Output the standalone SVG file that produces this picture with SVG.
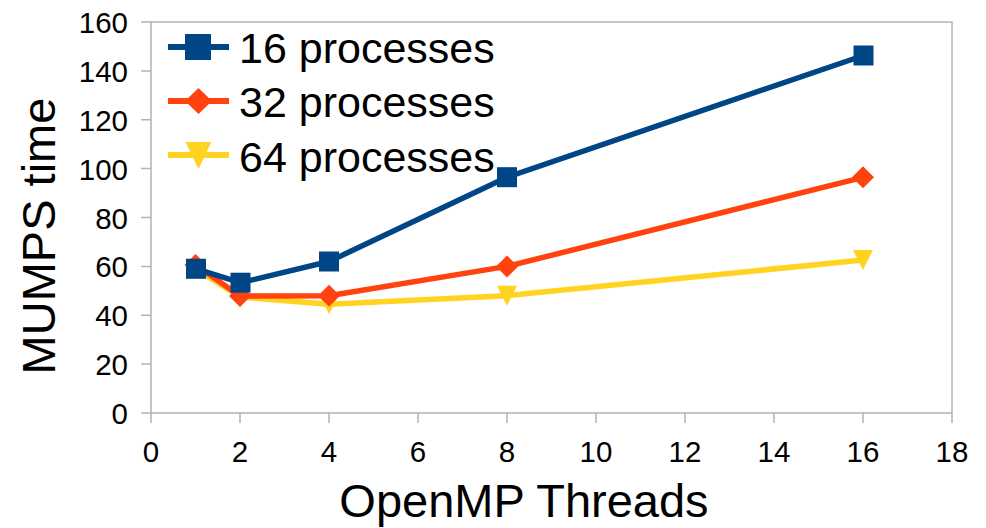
<svg xmlns="http://www.w3.org/2000/svg" width="986" height="528" viewBox="0 0 986 528">
<style>
text{font-family:"Liberation Sans",Arial,sans-serif;fill:#000}
.tick{font-size:29.5px}
.ylab{text-anchor:end}
.xlab{text-anchor:middle}
.axis{stroke:#b3b3b3;stroke-width:1.5;fill:none}
.s1{stroke:#004586;fill:none;stroke-width:5.5;stroke-linejoin:round}
.s2{stroke:#ff420e;fill:none;stroke-width:5.5;stroke-linejoin:round}
.s3{stroke:#ffd320;fill:none;stroke-width:5.5;stroke-linejoin:round}
.m1{fill:#004586}
.m2{fill:#ff420e}
.m3{fill:#ffd320}
.leg{font-size:43px}
</style>
<defs>
<rect id="sq" x="-10" y="-10" width="20" height="20"/>
<polygon id="dia" points="0,-11 11,0 0,11 -11,0"/>
<polygon id="tri" points="-10,-10 10,-10 0,10"/>
</defs>
<rect x="0" y="0" width="986" height="528" fill="#fff"/>
<g id="axes">
<rect class="axis" x="151" y="22" width="801" height="391"/>
<path class="axis" d="M141,22H151M141,70.9H151M141,119.8H151M141,168.6H151M141,217.5H151M141,266.4H151M141,315.3H151M141,364.1H151M141,413H151"/>
<path class="axis" d="M151,413V423M240,413V423M329,413V423M418,413V423M507,413V423M596,413V423M685,413V423M774,413V423M863,413V423M952,413V423"/>
</g>
<g id="ylabels" class="tick ylab">
<text x="128" y="33">160</text>
<text x="128" y="82">140</text>
<text x="128" y="131">120</text>
<text x="128" y="180">100</text>
<text x="128" y="229">80</text>
<text x="128" y="277">60</text>
<text x="128" y="326">40</text>
<text x="128" y="375">20</text>
<text x="128" y="424">0</text>
</g>
<g id="xlabels" class="tick xlab">
<text x="151" y="462">0</text>
<text x="240" y="462">2</text>
<text x="329" y="462">4</text>
<text x="418" y="462">6</text>
<text x="507" y="462">8</text>
<text x="596" y="462">10</text>
<text x="685" y="462">12</text>
<text x="774" y="462">14</text>
<text x="863" y="462">16</text>
<text x="952" y="462">18</text>
</g>
<text id="xtitle" x="524" y="517" font-size="47" text-anchor="middle">OpenMP Threads</text>
<text id="ytitle" transform="translate(55,236) rotate(-90)" font-size="47" text-anchor="middle">MUMPS time</text>
<g id="series3">
<polyline class="s3" points="195.5,268.8 240,297 329,304.2 507,295.7 863,260"/>
<use href="#tri" class="m3" x="195.5" y="268.8"/>
<use href="#tri" class="m3" x="240" y="297"/>
<use href="#tri" class="m3" x="329" y="304.2"/>
<use href="#tri" class="m3" x="507" y="295.7"/>
<use href="#tri" class="m3" x="863" y="260"/>
</g>
<g id="series2">
<polyline class="s2" points="195.5,265 240,296 329,295.7 507,266.4 863,177.3"/>
<use href="#dia" class="m2" x="195.5" y="265"/>
<use href="#dia" class="m2" x="240" y="296"/>
<use href="#dia" class="m2" x="329" y="295.7"/>
<use href="#dia" class="m2" x="507" y="266.4"/>
<use href="#dia" class="m2" x="863" y="177.3"/>
</g>
<g id="series1">
<polyline class="s1" points="196,268.8 240.5,282.7 329,261.5 507,177.2 863.5,55.5"/>
<use href="#sq" class="m1" x="196" y="268.8"/>
<use href="#sq" class="m1" x="240.5" y="282.7"/>
<use href="#sq" class="m1" x="329" y="261.5"/>
<use href="#sq" class="m1" x="507" y="177.2"/>
<use href="#sq" class="m1" x="863.5" y="55.5"/>
</g>
<g id="legend">
<g id="leg1">
<path d="M168,47H229" stroke="#004586" stroke-width="6"/>
<rect class="m1" x="185" y="34" width="26" height="26"/>
<text class="leg" x="239" y="62.5">16 processes</text>
</g>
<g id="leg2">
<path d="M168,101H229" stroke="#ff420e" stroke-width="6"/>
<polygon class="m2" points="198.5,88 212,101 198.5,114 185,101"/>
<text class="leg" x="239" y="116.5">32 processes</text>
</g>
<g id="leg3">
<path d="M168,155H229" stroke="#ffd320" stroke-width="6"/>
<polygon class="m3" points="185.5,142 211.5,142 198.5,169"/>
<text class="leg" x="239" y="171.5">64 processes</text>
</g>
</g>
</svg>
